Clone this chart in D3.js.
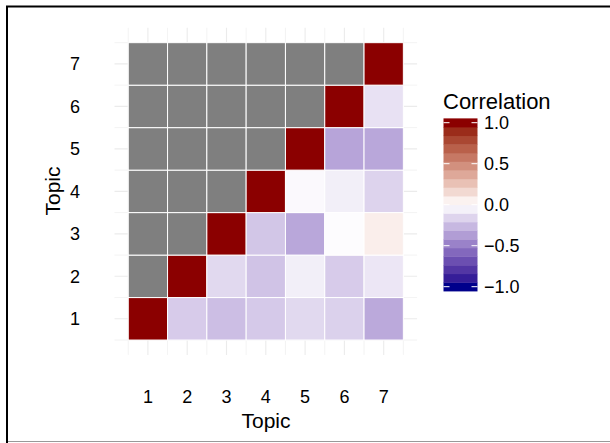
<!DOCTYPE html>
<html>
<head>
<meta charset="utf-8">
<script src="https://cdn.jsdelivr.net/npm/d3@7"></script>
<style>
  body { margin: 0; background: #fff; }
  text { font-family: "Liberation Sans", Arial, sans-serif; fill: #000; }
</style>
</head>
<body>
<div id="chart"></div>
<script>
// correlation between topics, one array per row (y), null = not shown (grey)
const topics = [1, 2, 3, 4, 5, 6, 7]
const corrY1 = [1.00, -0.19, -0.24, -0.20, -0.14, -0.17, -0.32]
const corrY2 = [null, 1.00, -0.14, -0.22, -0.06, -0.19, -0.09]
const corrY3 = [null, null, 1.00, -0.21, -0.33, -0.01, 0.07]
const corrY4 = [null, null, null, 1.00, -0.02, -0.06, -0.16]
const corrY5 = [null, null, null, null, 1.00, -0.34, -0.33]
const corrY6 = [null, null, null, null, null, 1.00, -0.11]
const corrY7 = [null, null, null, null, null, null, 1.00]
const legendTicks = [-1, -0.5, 0, 0.5, 1]

const width = 610, height = 443
const rowsData = [corrY1, corrY2, corrY3, corrY4, corrY5, corrY6, corrY7]
const cells = []
rowsData.forEach((row, i) => row.forEach((v, j) => cells.push({x: topics[j], y: topics[i], v: v})))

const svg = d3.select('#chart')
  .append('svg')
  .attr('width', width)
  .attr('height', height)

// frame around the picture
svg.append('line').attr('x1', 7).attr('x2', 7).attr('y1', 6.5).attr('y2', height)
  .attr('stroke', '#000').attr('stroke-width', 2)
svg.append('line').attr('x1', 6).attr('x2', width).attr('y1', 6.5).attr('y2', 6.5)
  .attr('stroke', '#000').attr('stroke-width', 2)
svg.append('line').attr('x1', 8).attr('x2', width).attr('y1', 441.5).attr('y2', 441.5)
  .attr('stroke', '#999').attr('stroke-width', 1)

const xScale = d3.scaleLinear().domain([0.15, 7.85]).range([114.5, 417.1])
const yScale = d3.scaleLinear().domain([0.15, 7.85]).range([354.9, 27.8])

const color = d3.scaleLinear()
  .domain([-1, 0, 1])
  .range(['darkblue', 'white', 'darkred'])
  .interpolate(d3.interpolateLab)

// grid
const minor = d3.range(0.5, 8, 1)
const grid = svg.append('g')
grid.selectAll('.vminor').data(minor).enter().append('line')
  .attr('x1', d => xScale(d)).attr('x2', d => xScale(d))
  .attr('y1', yScale.range()[0]).attr('y2', yScale.range()[1])
  .attr('stroke', '#ebebeb').attr('stroke-width', 0.6)
grid.selectAll('.hminor').data(minor).enter().append('line')
  .attr('y1', d => yScale(d)).attr('y2', d => yScale(d))
  .attr('x1', xScale.range()[0]).attr('x2', xScale.range()[1])
  .attr('stroke', '#ebebeb').attr('stroke-width', 0.6)
grid.selectAll('.vmajor').data(topics).enter().append('line')
  .attr('x1', d => xScale(d)).attr('x2', d => xScale(d))
  .attr('y1', yScale.range()[0]).attr('y2', yScale.range()[1])
  .attr('stroke', '#ebebeb').attr('stroke-width', 1.1)
grid.selectAll('.hmajor').data(topics).enter().append('line')
  .attr('y1', d => yScale(d)).attr('y2', d => yScale(d))
  .attr('x1', xScale.range()[0]).attr('x2', xScale.range()[1])
  .attr('stroke', '#ebebeb').attr('stroke-width', 1.1)

// tiles
svg.selectAll('rect.tile')
  .data(cells)
  .enter()
  .append('rect')
  .attr('class', 'tile')
  .attr('x', d => xScale(d.x - 0.5))
  .attr('y', d => yScale(d.y + 0.5))
  .attr('width', d => xScale(d.x + 0.5) - xScale(d.x - 0.5))
  .attr('height', d => yScale(d.y - 0.5) - yScale(d.y + 0.5))
  .attr('fill', d => d.v === null ? '#7f7f7f' : color(d.v))
  .attr('stroke', '#fff')
  .attr('stroke-width', 1)

// axes labels
svg.selectAll('.xlab').data(topics).enter().append('text')
  .attr('x', d => xScale(d)).attr('y', 403)
  .attr('text-anchor', 'middle').style('font-size', '18px')
  .text(d => d)
svg.selectAll('.ylab').data(topics).enter().append('text')
  .attr('x', 80).attr('y', d => yScale(d) + 6.5)
  .attr('text-anchor', 'end').style('font-size', '18px')
  .text(d => d)

svg.append('text')
  .text('Topic')
  .attr('x', 266).attr('y', 428)
  .attr('text-anchor', 'middle').style('font-size', '21px')
svg.append('text')
  .text('Topic')
  .attr('transform', `translate(60,${191}) rotate(-90)`)
  .attr('text-anchor', 'middle').style('font-size', '21px')

// legend
const nbin = 20
const bins = d3.range(nbin).map(i => -1 + 2 * i / (nbin - 1))
const lScale = d3.scaleLinear().domain([-1, 1]).range([286.7, 122.7])
const binH = (lScale(-1) - lScale(1)) / (nbin - 1)
const barX = 443.5, barW = 34

svg.append('text')
  .text('Correlation')
  .attr('x', 443).attr('y', 108.5)
  .style('font-size', '22px')

svg.selectAll('rect.bin')
  .data(bins)
  .enter()
  .append('rect')
  .attr('x', barX)
  .attr('y', d => lScale(d) - binH / 2)
  .attr('width', barW)
  .attr('height', binH + 0.4)
  .attr('fill', d => color(d))

const lt = svg.append('g')
lt.selectAll('.tl').data(legendTicks).enter().append('line')
  .attr('x1', barX).attr('x2', barX + 6)
  .attr('y1', d => lScale(d)).attr('y2', d => lScale(d))
  .attr('stroke', '#fff').attr('stroke-width', 1)
lt.selectAll('.tr').data(legendTicks).enter().append('line')
  .attr('x1', barX + barW - 6).attr('x2', barX + barW)
  .attr('y1', d => lScale(d)).attr('y2', d => lScale(d))
  .attr('stroke', '#fff').attr('stroke-width', 1)
lt.selectAll('text').data(legendTicks).enter().append('text')
  .attr('x', 484).attr('y', d => lScale(d) + 6.5)
  .style('font-size', '18px')
  .text(d => (d < 0 ? '\u2212' : '') + Math.abs(d).toFixed(1))
</script>
</body>
</html>
